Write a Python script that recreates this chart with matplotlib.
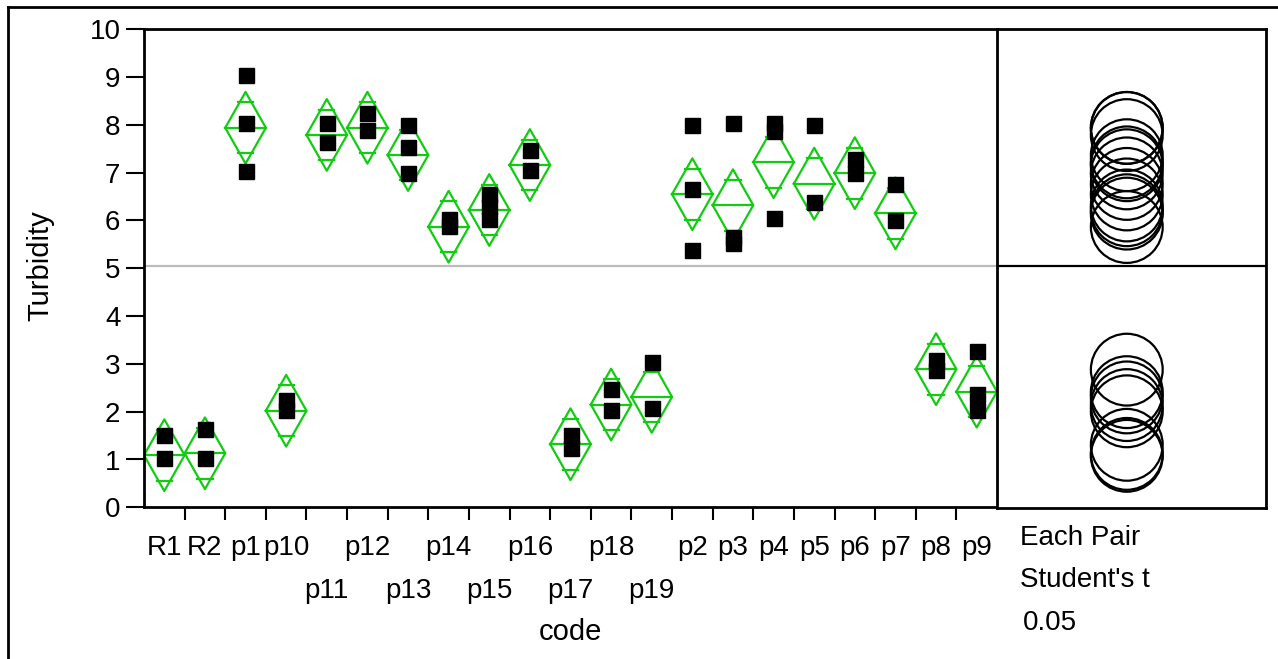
import numpy as np
import matplotlib.pyplot as plt
from matplotlib.patches import Circle
from matplotlib.lines import Line2D

plt.rcParams['font.family'] = ['Liberation Sans', 'DejaVu Sans']

# --- group codes, observed turbidity, group means ---
codes = ['R1', 'R2', 'p1', 'p10', 'p11', 'p12', 'p13', 'p14', 'p15', 'p16', 'p17',
         'p18', 'p19', 'p2', 'p3', 'p4', 'p5', 'p6', 'p7', 'p8', 'p9']

obs = [
    [1.52, 1.03],          # R1
    [1.63, 1.03],          # R2
    [9.05, 8.03, 7.03],    # p1
    [2.25, 2.03],          # p10
    [8.03, 7.65],          # p11
    [8.25, 7.90],          # p12
    [8.00, 7.53, 7.00],    # p13
    [6.03, 5.88],          # p14
    [6.55, 6.30, 6.03],    # p15
    [7.48, 7.05],          # p16
    [1.52, 1.25],          # p17
    [2.48, 2.03],          # p18
    [3.03, 2.08],          # p19
    [8.00, 6.65, 5.38],    # p2
    [8.05, 5.65, 5.53],    # p3
    [8.05, 7.88, 6.05],    # p4
    [8.00, 6.38],          # p5
    [7.28, 7.00],          # p6
    [6.76, 6.01],          # p7
    [3.08, 2.88],          # p8
    [3.26, 2.36, 2.04],    # p9
]

means = [1.09, 1.13, 7.94, 2.02, 7.79, 7.94, 7.37, 5.87, 6.22, 7.16, 1.32,
         2.15, 2.31, 6.55, 6.32, 7.22, 6.77, 6.99, 6.15, 2.89, 2.42]

ci_half = 0.75        # 95% CI half width (pooled)
grand_mean = 5.05

green = '#11CC11'
W, H = 1278, 659

def px_rect(l, t, r, b):
    return [l / W, 1 - b / H, (r - l) / W, (b - t) / H]

fig = plt.figure(figsize=(W / 100, H / 100), dpi=100)
ax = fig.add_axes(px_rect(144, 29.3, 997, 507.3))
cax = fig.add_axes(px_rect(997, 29.3, 1265.7, 508))

n = len(codes)
x = np.arange(n)

# grand mean reference line
ax.axhline(grand_mean, color='#BBBBBB', lw=1.6, zorder=1)

# means diamonds with overlap marks
w = 0.5
ov = ci_half / np.sqrt(2)
ow = w * (1 - ov / ci_half) + 0.04
for i, m in zip(x, means):
    ax.plot([i - w, i, i + w, i, i - w], [m, m + ci_half, m, m - ci_half, m],
            color=green, lw=1.6, zorder=2)
    ax.plot([i - w, i + w], [m, m], color=green, lw=1.6, zorder=2)
    for s in (1, -1):
        ax.plot([i - ow, i + ow], [m + s * ov] * 2, color=green, lw=1.6, zorder=2)

# raw observations
for i, vals in zip(x, obs):
    ax.plot([i] * len(vals), vals, 's', color='black', ms=10.8, zorder=3)

ax.set_xlim(-0.5, n - 0.5)
ax.set_ylim(0, 10)
ax.set_yticks(range(11))
ax.tick_params(axis='y', length=13, width=1.5, pad=4, labelsize=20)

# boundary ticks between groups, labels at group centers (two staggered rows)
stagger = {'p11', 'p13', 'p15', 'p17', 'p19'}
ax.set_xticks(x[:-1] + 0.5)
ax.tick_params(axis='x', which='major', length=9.5, width=1.5, labelbottom=False)
ax.set_xticks(x, minor=True)
ax.set_xticklabels(['' if c in stagger else c for c in codes], minor=True)
ax.tick_params(axis='x', which='minor', length=0, pad=20, labelsize=20)
row2_y = -(598 - 507.3) / (507.3 - 29.3)
for i, c in zip(x, codes):
    if c in stagger:
        ax.text(i, row2_y, c, transform=ax.get_xaxis_transform(),
                ha='center', va='baseline', fontsize=20)

for side in ('left', 'bottom', 'top'):
    ax.spines[side].set_linewidth(2)
ax.spines['right'].set_visible(False)

# comparison circles, same vertical scale as the main axes
ppu = (508 - 29.3) / 10
xspan = (1265.7 - 997) / ppu
cx = 0.483 * xspan
cax.set_xlim(0, xspan)
cax.set_ylim(0, 10)
for m in means:
    cax.add_patch(Circle((cx, m), ci_half, fill=False, ec='black', lw=1.6))
cax.axhline(grand_mean, color='black', lw=1.6)
cax.set_xticks([])
cax.set_yticks([])
for sp in cax.spines.values():
    sp.set_linewidth(2)

fig.text(40 / W, 1 - 266 / H, 'Turbidity', rotation=90, ha='center', va='center', fontsize=21)
fig.text(570 / W, 1 - 640 / H, 'code', ha='center', va='baseline', fontsize=21)
fig.text(1020 / W, 1 - 545 / H, 'Each Pair', ha='left', va='baseline', fontsize=20)
fig.text(1020 / W, 1 - 587 / H, "Student's t", ha='left', va='baseline', fontsize=20)
fig.text(1023 / W, 1 - 630 / H, '0.05', ha='left', va='baseline', fontsize=20)

# report frame
fig.add_artist(Line2D([8 / W, 1], [1 - 7.3 / H] * 2, color='black', lw=2))
fig.add_artist(Line2D([8 / W] * 2, [0, 1 - 7.3 / H], color='black', lw=2))

fig.savefig('out.png', dpi=100)
